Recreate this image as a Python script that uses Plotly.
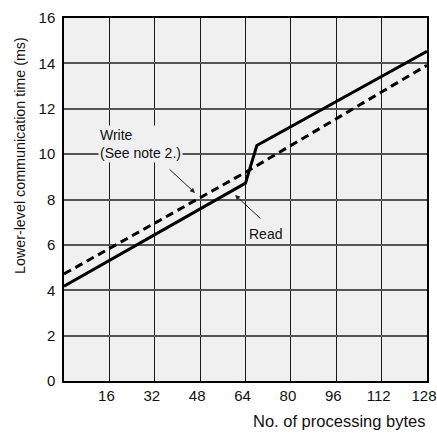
import plotly.graph_objects as go

read_x = [0, 64, 65.5, 68, 128]
read_y = [4.18, 8.72, 9.35, 10.38, 14.53]
write_x = [0, 64, 128]
write_y = [4.72, 9.2, 13.92]
x_ticks = [16, 32, 48, 64, 80, 96, 112, 128]
y_ticks = [0, 2, 4, 6, 8, 10, 12, 14, 16]

FONT = "Liberation Sans, Arial, Helvetica, sans-serif"

fig = go.Figure()
fig.add_trace(go.Scatter(x=write_x, y=write_y, mode="lines",
                         line=dict(color="black", width=3, dash="8px,5px"),
                         showlegend=False, hoverinfo="skip"))
fig.add_trace(go.Scatter(x=read_x, y=read_y, mode="lines",
                         line=dict(color="black", width=3),
                         showlegend=False, hoverinfo="skip"))

fig.update_layout(
    width=437, height=433,
    margin=dict(l=64, r=10, t=18, b=52),
    paper_bgcolor="white", plot_bgcolor="#f0f0f0",
    font=dict(family=FONT, size=15, color="#111"),
    xaxis=dict(range=[0, 128], tickvals=x_ticks, ticktext=[str(v) for v in x_ticks],
               showgrid=True, gridcolor="#1a1a1a", gridwidth=1.2,
               showline=True, linecolor="black", linewidth=1.5, mirror=True,
               zeroline=False, ticks="", ticklen=0, ticklabeloverflow="allow",
               ticklabelshift=-3, automargin=False),
    yaxis=dict(range=[0, 16], tickvals=y_ticks, ticktext=[str(v) for v in y_ticks],
               showgrid=True, gridcolor="#555555", gridwidth=1.5,
               showline=True, linecolor="black", linewidth=1.5, mirror=True,
               zeroline=False, ticks="", ticklen=0, ticklabelstandoff=4,
               ticklabeloverflow="allow", automargin=False),
)

annotations = [
    dict(text="Lower-level communication time (ms)", textangle=-90,
         xref="paper", yref="paper", x=-0.121, y=0.620,
         xanchor="center", yanchor="middle", showarrow=False,
         font=dict(size=14.3)),
    dict(text="No. of processing bytes", xref="paper", yref="paper",
         x=1.0, y=-0.11, xanchor="right", yanchor="middle",
         showarrow=False, font=dict(size=16.5)),
    dict(text="Write<br>(See note 2.)", xref="x", yref="y", x=12.0, y=10.45,
         xanchor="left", yanchor="middle", align="left", showarrow=False,
         bgcolor="#f0f0f0", font=dict(size=14)),
    dict(text="Read", xref="x", yref="y", x=64.5, y=6.48,
         xanchor="left", yanchor="middle", showarrow=False,
         bgcolor="#f0f0f0", font=dict(size=14)),
    dict(text="", xref="x", yref="y", x=46.2, y=8.29,
         axref="x", ayref="y", ax=36.7, ay=9.39,
         showarrow=True, arrowhead=2, arrowsize=1, arrowwidth=1, arrowcolor="#222"),
    dict(text="", xref="x", yref="y", x=60.3, y=8.2,
         axref="x", ayref="y", ax=69.8, ay=7.1,
         showarrow=True, arrowhead=2, arrowsize=1, arrowwidth=1, arrowcolor="#222"),
]
fig.update_layout(annotations=annotations)

fig.write_html("out.html", config={"displayModeBar": False},
               post_script="document.body.style.margin='0';document.body.style.padding='0';")
